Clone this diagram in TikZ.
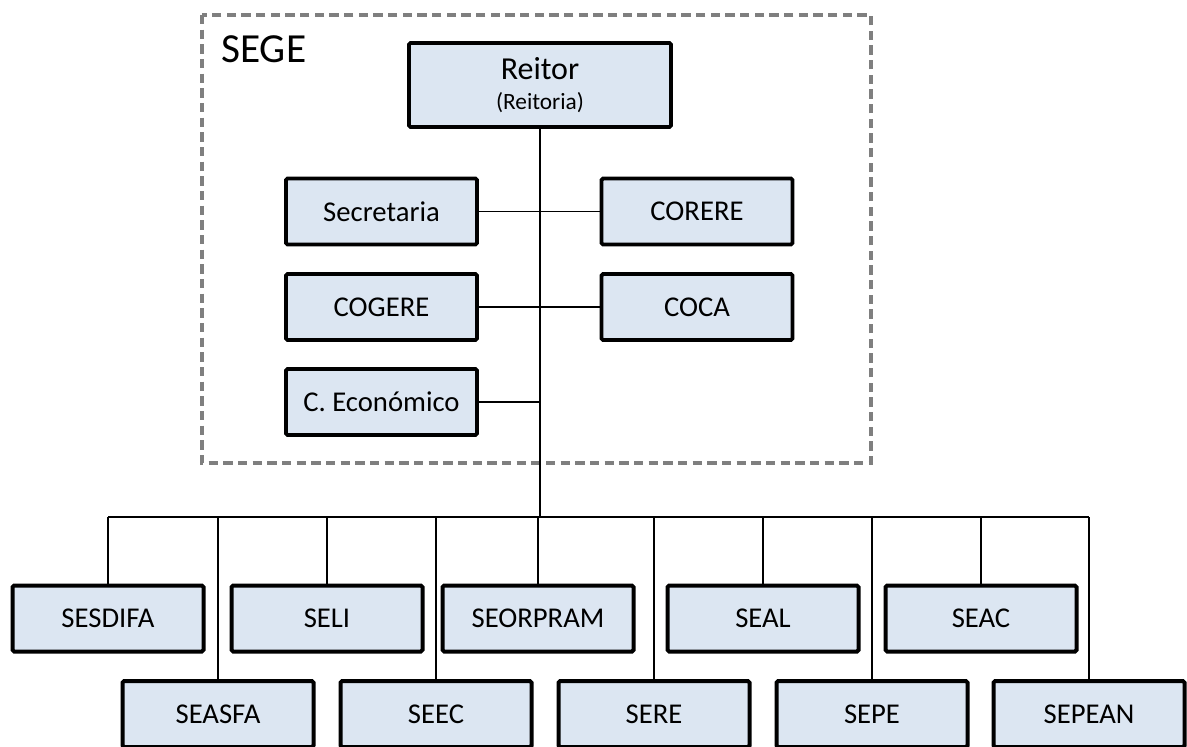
\documentclass[tikz,border=0pt]{standalone}
\usepackage{fontspec}
\setmainfont{Carlito}
\definecolor{boxfill}{HTML}{DCE6F2}
\definecolor{dashgray}{HTML}{7F7F7F}
\begin{document}
\begin{tikzpicture}[x=0.75pt,y=-0.75pt,
  unit/.style={draw=black, line width=2.8pt, fill=boxfill, rounded corners=1.2pt,
     minimum width=191pt*0.75, minimum height=66pt*0.75, inner sep=0pt,
     font=\fontsize{21.5}{25}\selectfont},
  lowunit/.style={unit, line width=3pt},
  thinline/.style={line width=1pt},
  trunk/.style={line width=2.2pt},
  frame/.style={draw=dashgray, line width=2.7pt, dash pattern=on 7pt off 4pt}]
\useasboundingbox (0,0) rectangle (1187,746);
% SEGE frame
\draw[frame] (202,15) rectangle (871,463);
\node[anchor=base west, inner sep=0pt, font=\fontsize{31}{36}\selectfont] (sege) at (221,62) {SEGE};
% top nodes
\node[unit, minimum width=262*0.75pt, minimum height=84*0.75pt, align=center] (reitor) at (540,85)
  {{\fontsize{24}{26}\selectfont Reitor}\\[-2pt]{\fontsize{17.5}{20}\selectfont (Reitoria)}};
\node[unit] (secr) at (381.5,211.5) {Secretaria};
\node[unit] (corere) at (697,211.5) {CORERE};
\node[unit] (cogere) at (381.5,307) {COGERE};
\node[unit] (coca) at (697,307) {COCA};
\node[unit] (econ) at (381.5,402) {C. Económico};
% bottom rows
\node[lowunit] (sesdifa) at (108,618.5) {SESDIFA};
\node[lowunit] (seli) at (327,618.5) {SELI};
\node[lowunit] (seorpram) at (538,618.5) {SEORPRAM};
\node[lowunit] (seal) at (763,618.5) {SEAL};
\node[lowunit] (seac) at (981,618.5) {SEAC};
\node[lowunit] (seasfa) at (218,714) {SEASFA};
\node[lowunit] (seec) at (436,714) {SEEC};
\node[lowunit] (sere) at (654,714) {SERE};
\node[lowunit] (sepe) at (872,714) {SEPE};
\node[lowunit] (sepean) at (1089,714) {SEPEAN};
% connectors
\coordinate (hub) at (540,517);
\coordinate (busL) at (108,517);
\coordinate (busR) at (1089,517);
\coordinate (econj) at (539,402);
\draw[trunk] (reitor.south) -- (hub);
\draw[thinline] (secr.east) -- (corere.west);
\draw[thinline] (cogere.east) -- (coca.west);
\draw[thinline] (econ.east) -- (econj);
\draw[thinline] (busL) -- (busR);
\draw[line width=1.9pt] (seasfa.north |- hub) -- (seal.north |- hub);
\foreach \n in {sesdifa,seli,seorpram,seal,seac,seasfa,seec,sere,sepe,sepean}
  \draw[thinline] (\n.north) -- (\n.north |- hub);
\end{tikzpicture}
\end{document}
